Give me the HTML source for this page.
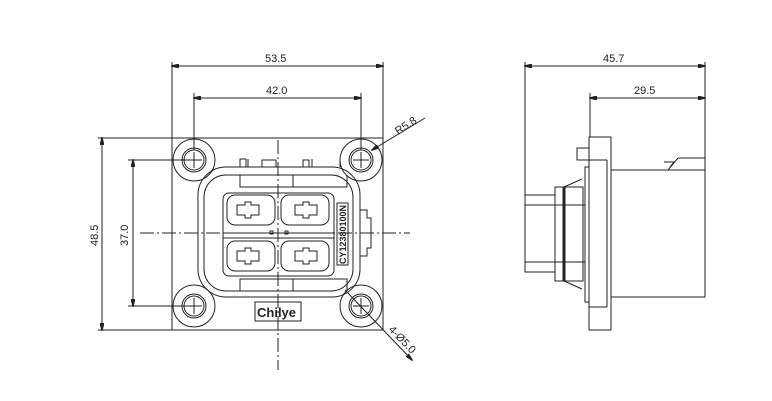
<!DOCTYPE html>
<html><head><style>body{margin:0;background:#fff}svg{display:block}text{font-family:"Liberation Sans",sans-serif;font-size:11px;fill:#222}</style></head><body>
<svg width="772" height="401" viewBox="0 0 772 401" xmlns="http://www.w3.org/2000/svg" fill="none" stroke="#222" stroke-width="1">
<defs><marker id="a" markerWidth="8" markerHeight="4" refX="7" refY="2" orient="auto-start-reverse" markerUnits="userSpaceOnUse"><path d="M0,0L8,2L0,4z" fill="#222"/></marker></defs>
<!-- FRONT VIEW dims -->
<line x1="172" y1="62" x2="172" y2="138"/><line x1="383" y1="62" x2="383" y2="138"/>
<line x1="172" y1="66" x2="383" y2="66" marker-start="url(#a)" marker-end="url(#a)"/>
<text x="265" y="62" stroke="none">53.5</text>
<line x1="194" y1="93" x2="194" y2="150"/><line x1="361" y1="93" x2="361" y2="150"/>
<line x1="194" y1="98" x2="361" y2="98" marker-start="url(#a)" marker-end="url(#a)"/>
<text x="266" y="94" stroke="none">42.0</text>
<line x1="98" y1="138" x2="172" y2="138"/><line x1="98" y1="330" x2="172" y2="330"/>
<line x1="102" y1="138" x2="102" y2="330" marker-start="url(#a)" marker-end="url(#a)"/>
<text x="0" y="0" stroke="none" transform="translate(98,246) rotate(-90)">48.5</text>
<line x1="128" y1="160" x2="194" y2="160"/><line x1="128" y1="306" x2="194" y2="306"/>
<line x1="133" y1="160" x2="133" y2="306" marker-start="url(#a)" marker-end="url(#a)"/>
<text x="0" y="0" stroke="none" transform="translate(128,246) rotate(-90)">37.0</text>
<!-- center lines -->
<line x1="278" y1="140" x2="278" y2="370" stroke-dasharray="14,3,2,3"/>
<line x1="140" y1="233" x2="410" y2="233" stroke-dasharray="14,3,2,3"/>
<!-- flange -->
<rect x="172" y="138" width="211" height="192"/>
<g>
<circle cx="194" cy="160" r="21"/><circle cx="194" cy="160" r="12"/><circle cx="194" cy="160" r="10"/>
<circle cx="361" cy="160" r="21"/><circle cx="361" cy="160" r="12"/><circle cx="361" cy="160" r="10"/>
<circle cx="194" cy="306" r="21"/><circle cx="194" cy="306" r="12"/><circle cx="194" cy="306" r="10"/>
<circle cx="361" cy="306" r="21"/><circle cx="361" cy="306" r="12"/><circle cx="361" cy="306" r="10"/>
<path d="M186 160h16M194 152v16M353 160h16M361 152v16M186 306h16M194 298v16M353 306h16M361 298v16"/>
</g>
<!-- housing -->
<rect x="198" y="167" width="162" height="130" rx="28"/>
<rect x="204" y="175" width="149" height="116" rx="22"/>
<path d="M240 167v-8h6v8M248 167v-8M262 167v-7h14v7M303 167v-7h6v7M340 167v-8M312 167v-8"/>
<path d="M360 210h7v8h4v30h-4v8h-7"/>
<path d="M240 175v12h53v-12M293 175v12h54v-12M240 291v-12h53v12M293 291v-12h54v12"/>
<rect x="223" y="193" width="111" height="83" rx="6"/>
<line x1="223" y1="233" x2="334" y2="233"/><line x1="223" y1="238" x2="334" y2="238"/>
<rect x="227" y="195" width="48" height="30" rx="8"/><rect x="281" y="195" width="48" height="30" rx="8"/>
<rect x="227" y="241" width="48" height="30" rx="8"/><rect x="281" y="241" width="48" height="30" rx="8"/>
<path d="M237 205h8v-3h6v3h8v10h-8v3h-6v-3h-8z"/>
<path d="M295 205h8v-3h6v3h8v10h-8v3h-6v-3h-8z"/>
<path d="M237 251h8v-3h6v3h8v10h-8v3h-6v-3h-8z"/>
<path d="M295 251h8v-3h6v3h8v10h-8v3h-6v-3h-8z"/>
<rect x="270" y="231" width="3" height="3"/><rect x="285" y="231" width="3" height="3"/>
<rect x="337" y="203" width="11" height="62"/>
<text x="0" y="0" stroke="none" style="font-size:9px;font-weight:bold" transform="translate(346,264) rotate(-90)">CY12380100N</text>
<rect x="255" y="302" width="46" height="19"/>
<text x="257" y="317" stroke="none" style="font-size:13px;font-weight:bold">Chilye</text>
<!-- leaders -->
<line x1="372" y1="150" x2="425" y2="118" marker-start="url(#a)"/>
<text x="0" y="0" stroke="none" transform="translate(398,135) rotate(-33)">R5.8</text>
<line x1="345" y1="290" x2="412" y2="360" marker-end="url(#a)"/>
<text x="0" y="0" stroke="none" transform="translate(388,330) rotate(46)">4-Ø5.0</text>
<!-- SIDE VIEW -->
<line x1="525" y1="62" x2="525" y2="195"/><line x1="705" y1="62" x2="705" y2="170"/>
<line x1="525" y1="66" x2="705" y2="66" marker-start="url(#a)" marker-end="url(#a)"/>
<text x="603" y="62" stroke="none">45.7</text>
<line x1="590" y1="93" x2="590" y2="137"/>
<line x1="590" y1="98" x2="705" y2="98" marker-start="url(#a)" marker-end="url(#a)"/>
<text x="634" y="94" stroke="none">29.5</text>
<rect x="589" y="137" width="22" height="193"/>
<line x1="607" y1="160" x2="607" y2="307"/><line x1="589" y1="160" x2="607" y2="160"/><line x1="589" y1="307" x2="607" y2="307"/>
<rect x="611" y="170" width="94" height="127"/>
<path d="M678 158h27M678 158l-10 12M664 162h10l-4 5"/>
<path d="M589 148h-12v12h12"/>
<rect x="585" y="167" width="4" height="135"/>
<path d="M564 187h19v94h-19M564 187l18-8M564 281l18 8"/>
<line x1="564" y1="187" x2="564" y2="281" stroke-width="3"/>
<rect x="555" y="187" width="9" height="94"/>
<rect x="525" y="195" width="30" height="77"/>
<line x1="525" y1="205" x2="585" y2="205"/><line x1="525" y1="262" x2="585" y2="262"/>
</svg>
</body></html>
